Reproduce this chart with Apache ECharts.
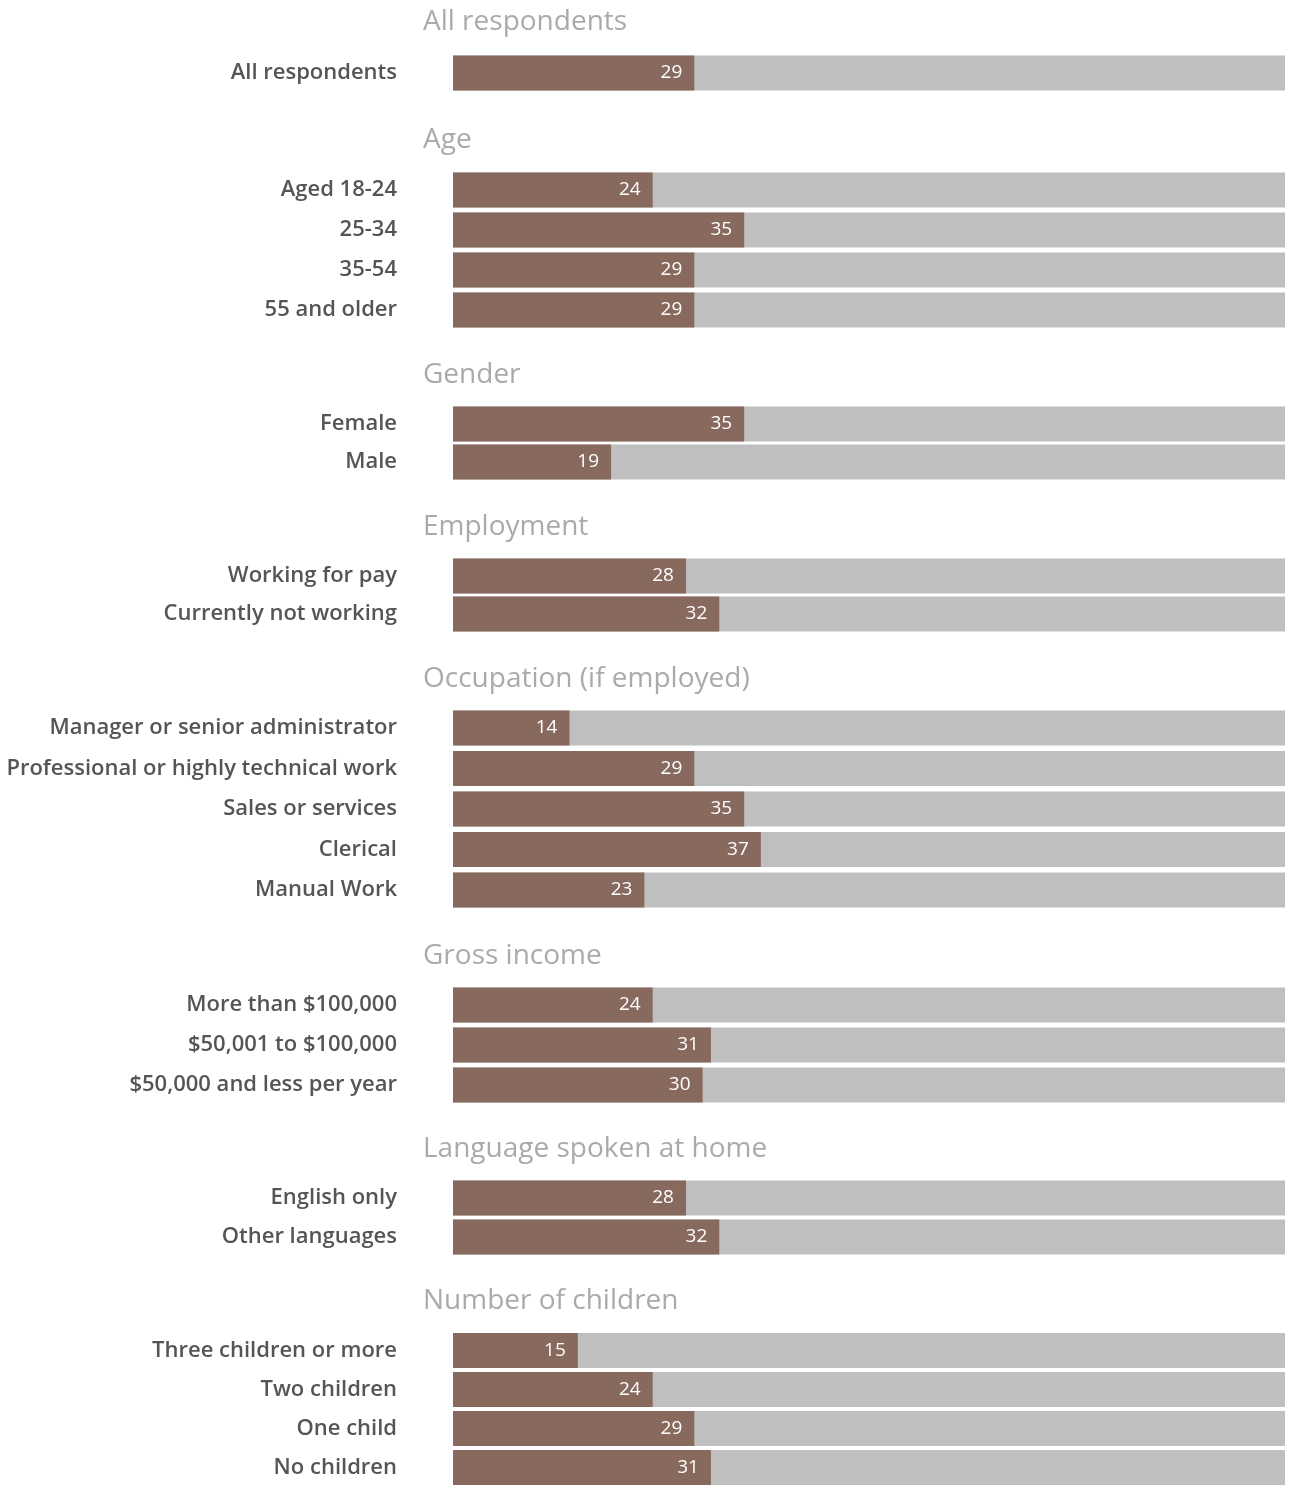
<!DOCTYPE html>
<html>
<head>
<meta charset="utf-8">
<script src="https://cdn.jsdelivr.net/npm/echarts@6/dist/echarts.min.js"></script>
<style>
  html, body { margin: 0; padding: 0; background: #ffffff; }
  #chart { width: 1291px; height: 1487px; }
</style>
</head>
<body>
<div id="chart"></div>
<script>
// Section headings
const groupTitles = ['All respondents', 'Age', 'Gender', 'Employment', 'Occupation (if employed)', 'Gross income', 'Language spoken at home', 'Number of children'];

// Row labels and percentages per section
const allLabels = ['All respondents'];
const allValues = [29];

const ageLabels = ['Aged 18-24', '25-34', '35-54', '55 and older'];
const ageValues = [24, 35, 29, 29];

const genderLabels = ['Female', 'Male'];
const genderValues = [35, 19];

const employmentLabels = ['Working for pay', 'Currently not working'];
const employmentValues = [28, 32];

const occupationLabels = ['Manager or senior administrator', 'Professional or highly technical work', 'Sales or services', 'Clerical', 'Manual Work'];
const occupationValues = [14, 29, 35, 37, 23];

const incomeLabels = ['More than $100,000', '$50,001 to $100,000', '$50,000 and less per year'];
const incomeValues = [24, 31, 30];

const languageLabels = ['English only', 'Other languages'];
const languageValues = [28, 32];

const childrenLabels = ['Three children or more', 'Two children', 'One child', 'No children'];
const childrenValues = [15, 24, 29, 31];

const sectionLabels = [allLabels, ageLabels, genderLabels, employmentLabels, occupationLabels, incomeLabels, languageLabels, childrenLabels];
const sectionValues = [allValues, ageValues, genderValues, employmentValues, occupationValues, incomeValues, languageValues, childrenValues];

// Layout: vertical centre of each heading, of each section's first row, and row pitch
const headingY = [22, 140, 375, 527, 679, 956, 1149, 1301];
const firstRowY = [73, 190, 424, 576, 728, 1005, 1198, 1351];
const rowPitch = [40, 40, 38, 38, 40.5, 40, 39, 40];

const FONT = '"Open Sans", Lato, sans-serif';
const BAR = '#87695e';
const TRACK = '#bfbfbf';

const grids = [], xAxes = [], yAxes = [], series = [], graphics = [];

sectionLabels.forEach((labels, i) => {
  const n = labels.length;
  grids.push({
    left: 453,
    right: 6,
    top: firstRowY[i] - rowPitch[i] / 2,
    height: n * rowPitch[i],
    containLabel: false
  });
  xAxes.push({
    gridIndex: i, type: 'value', min: 0, max: 100,
    show: false
  });
  yAxes.push({
    gridIndex: i, type: 'category', data: labels, inverse: true,
    axisLine: { show: false }, axisTick: { show: false }, splitLine: { show: false },
    axisLabel: { color: '#555555', fontSize: 22, fontWeight: 600, fontFamily: FONT, margin: 56, padding: [3, 0, 0, 0] }
  });
  series.push({
    type: 'bar',
    xAxisIndex: i, yAxisIndex: i,
    data: sectionValues[i],
    barWidth: 35,
    showBackground: true,
    backgroundStyle: { color: TRACK },
    itemStyle: { color: BAR },
    label: {
      show: true, position: 'insideRight', distance: 12,
      color: '#ffffff', fontSize: 19, fontFamily: FONT
    },
    silent: true,
    animation: false
  });
  graphics.push({
    type: 'text',
    x: 423, y: headingY[i],
    style: {
      text: groupTitles[i],
      fill: '#aaaaaa',
      font: '28px ' + FONT,
      textVerticalAlign: 'middle'
    }
  });
});

const chart = echarts.init(document.getElementById('chart'), null, { renderer: 'canvas' });
chart.setOption({
  animation: false,
  grid: grids,
  xAxis: xAxes,
  yAxis: yAxes,
  series: series,
  graphic: graphics
});
</script>
</body>
</html>
